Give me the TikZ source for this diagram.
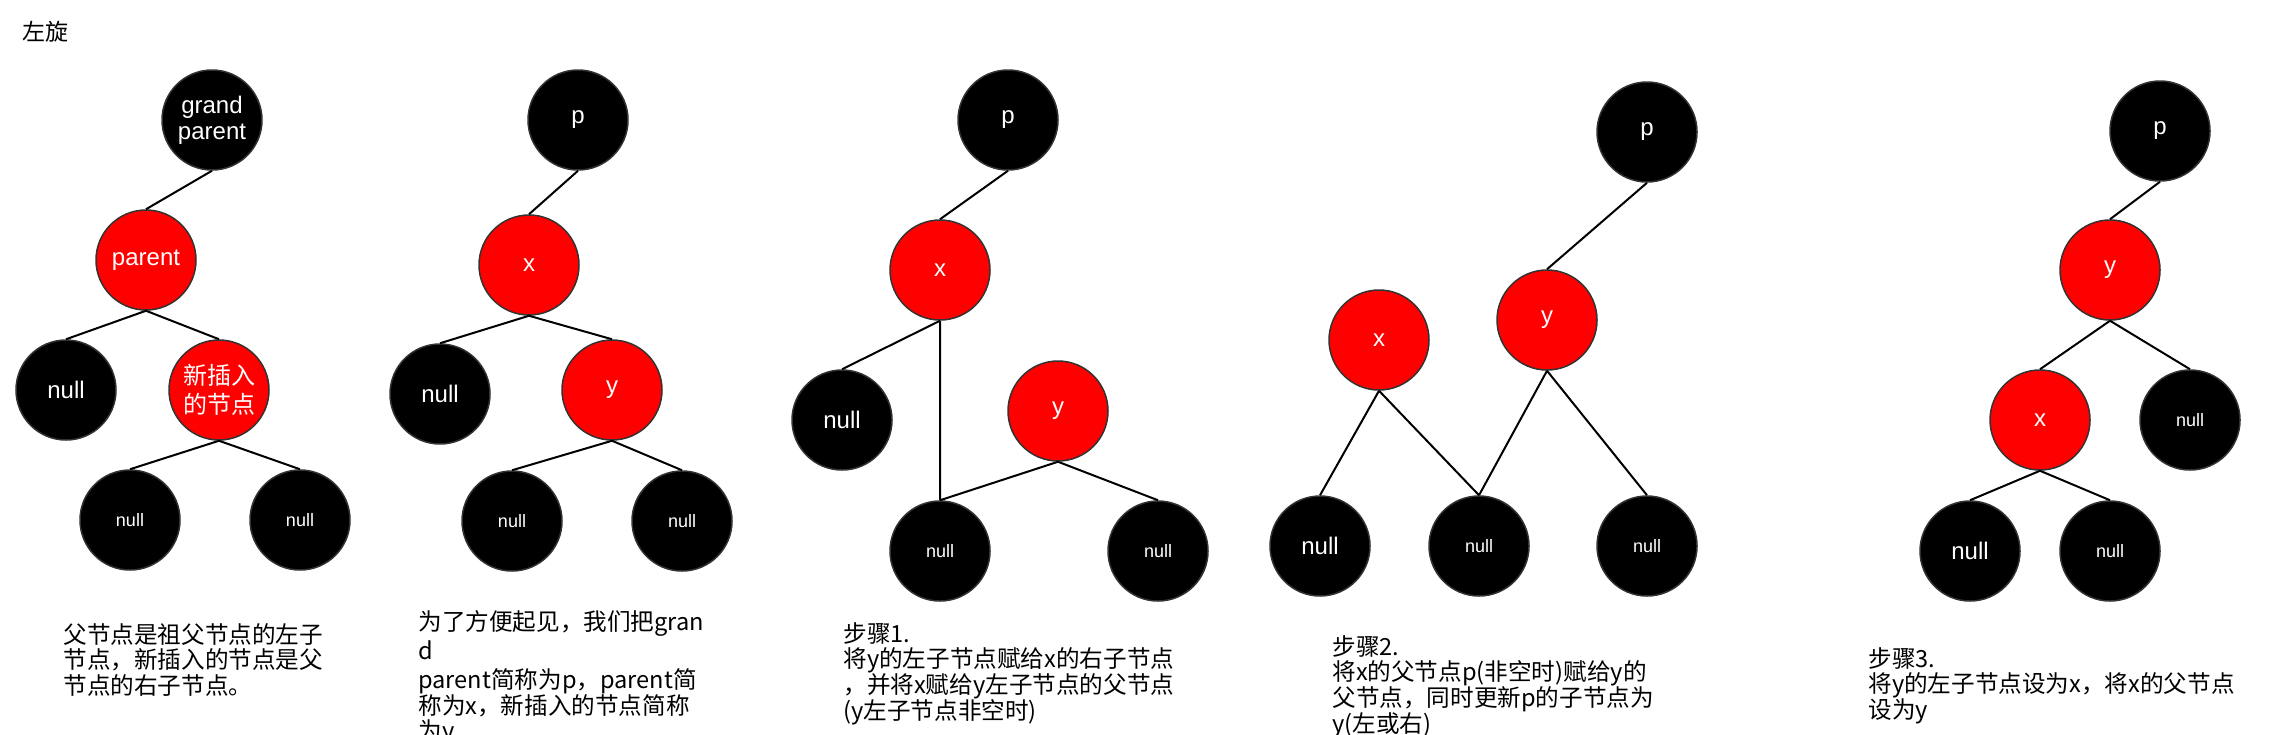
\documentclass[tikz,border=0pt]{standalone}
\usepackage{fontspec}
\setmainfont{Liberation Sans}
\newfontfamily\cjk{Noto Sans CJK SC}
\definecolor{nodered}{HTML}{FF0000}
\definecolor{rim}{HTML}{333333}

\begin{document}
\begin{tikzpicture}[x=0.5pt, y=-0.5pt,
  rb/.style={circle, draw=rim, line width=0.75pt, minimum size=50pt,
    inner sep=0pt, align=center, text=white,
    font=\fontsize{12}{13}\selectfont},
  blk/.style={rb, fill=black},
  rednode/.style={rb, fill=nodered},
  nul/.style={blk, font=\fontsize{9}{10}\selectfont},
  edge/.style={line width=1pt},
  caption/.style={anchor=north west, inner sep=0pt, align=left,
    font=\cjk\fontsize{11.8}{12.8}\selectfont}]
  \useasboundingbox (0,0) rectangle (2273,734);

  \node[anchor=north west, inner sep=0pt, font=\cjk\fontsize{11.5}{13}\selectfont] (title) at (22,21) {左旋};

  % tree 1
  \node[blk] (agp) at (212,120) {grand\\parent};
  \node[rednode] (apar) at (146,260) {parent};
  \node[blk] (an1) at (66,390) {null};
  \node[rednode, font=\cjk\fontsize{12}{14.3}\selectfont] (anew) at (219,390) {新插入\\的节点};
  \node[nul] (an2) at (130,520) {null};
  \node[nul] (an3) at (300,520) {null};
  \draw[edge] (agp.south) -- (apar.north) (apar.south) -- (an1.north)
    (apar.south) -- (anew.north) (anew.south) -- (an2.north) (anew.south) -- (an3.north);

  % tree 2
  \node[blk] (bp) at (578,120) {p};
  \node[rednode] (bx) at (529,265) {x};
  \node[blk] (bn1) at (440,394) {null};
  \node[rednode] (by) at (612,390) {y};
  \node[nul] (bn2) at (512,521) {null};
  \node[nul] (bn3) at (682,521) {null};
  \draw[edge] (bp.south) -- (bx.north) (bx.south) -- (bn1.north)
    (bx.south) -- (by.north) (by.south) -- (bn2.north) (by.south) -- (bn3.north);

  % step 1
  \node[blk] (cp) at (1008,120) {p};
  \node[rednode] (cx) at (940,270) {x};
  \node[blk] (cn1) at (842,420) {null};
  \node[rednode] (cy) at (1058,411) {y};
  \node[nul] (cn2) at (940,551) {null};
  \node[nul] (cn3) at (1158,551) {null};
  \draw[edge] (cp.south) -- (cx.north) (cx.south) -- (cn1.north)
    (cx.south) -- (cn2.north) (cy.south) -- (cn2.north) (cy.south) -- (cn3.north);

  % step 2
  \node[blk] (dp) at (1647,132) {p};
  \node[rednode] (dy) at (1547,320) {y};
  \node[rednode] (dx) at (1379,340) {x};
  \node[blk] (dn1) at (1320,546) {null};
  \node[nul] (dn2) at (1479,546) {null};
  \node[nul] (dn3) at (1647,546) {null};
  \draw[edge] (dp.south) -- (dy.north) (dx.south) -- (dn1.north)
    (dx.south) -- (dn2.north) (dy.south) -- (dn2.north) (dy.south) -- (dn3.north);

  % step 3
  \node[blk] (ep) at (2160,131) {p};
  \node[rednode] (ey) at (2110,270) {y};
  \node[rednode] (ex) at (2040,420) {x};
  \node[nul] (en3) at (2190,420) {null};
  \node[blk] (en1) at (1970,551) {null};
  \node[nul] (en2) at (2110,551) {null};
  \draw[edge] (ep.south) -- (ey.north) (ey.south) -- (ex.north)
    (ey.south) -- (en3.north) (ex.south) -- (en1.north) (ex.south) -- (en2.north);

  % captions
  \node[caption] (capa) at (63,623) {父节点是祖父节点的左子\\节点，新插入的节点是父\\节点的右子节点。};
  \node[caption] (capb) at (418,610) {为了方便起见，我们把gran\\[1.8pt]d\\[1.8pt]parent简称为p，parent简\\称为x，新插入的节点简称\\为y.};
  \node[caption] (capc) at (843,622) {步骤1.\\将y的左子节点赋给x的右子节点\\，并将x赋给y左子节点的父节点\\(y左子节点非空时)};
  \node[caption] (capd) at (1332,635) {步骤2.\\将x的父节点p(非空时)赋给y的\\父节点，同时更新p的子节点为\\y(左或右)};
  \node[caption] (cape) at (1868,647) {步骤3.\\将y的左子节点设为x，将x的父节点\\设为y};
\end{tikzpicture}
\end{document}
